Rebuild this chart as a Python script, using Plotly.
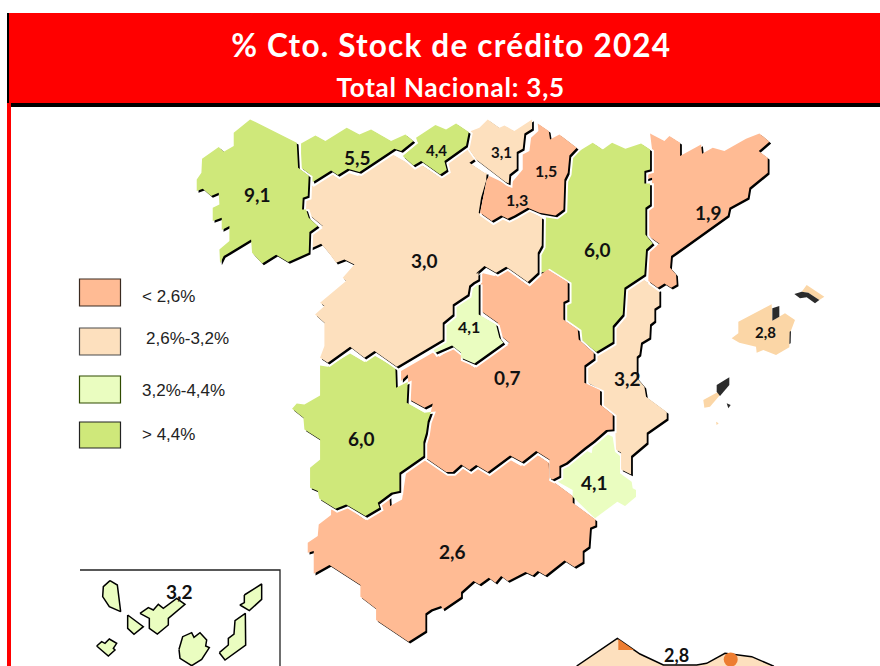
import plotly.graph_objects as go

W, H = 880, 666
ORANGE, PEACH, LIGHT, GREEN = "#FFBB94", "#FDE0BE", "#EAFDC0", "#CFE87A"
BAL = "#FBD6A6"


def crop(ox, oy, pts):
    return [(ox + x / 3, oy + y / 3) for x, y in pts]


GALICIA = crop(190, 110, [(182,30),(322,100),(326,175),(358,198),(355,260),(340,265),(338,300),(350,300),(358,325),(385,350),(360,368),(358,430),(296,458),(260,436),(218,462),(188,430),(185,390),(103,440),(92,462),(90,420),(120,395),(120,350),(97,362),(97,325),(70,335),(70,295),(90,285),(88,250),(65,260),(40,238),(22,245),(22,210),(36,190),(38,148),(88,113),(103,127),(133,110),(133,70)])
ASTURIAS = crop(190, 110, [(335,102),(378,78),(408,95),(472,55),(510,75),(545,60),(605,95),(648,75),(672,95),(635,125),(615,118),(510,188),(475,178),(445,197),(425,183),(370,218),(362,195),(335,175)])
CANTABRIA = crop(190, 110, [(680,85),(738,47),(770,60),(800,42),(838,68),(830,108),(765,155),(772,182),(752,195),(695,155),(672,168),(640,140),(685,100)])
CYL = crop(190, 110, [(365,232),(425,193),(445,205),(475,190),(505,200),(610,135),(680,175),(695,165),(755,205),(780,185),(762,155),(830,115),(862,145),(840,160),(885,190)]) + crop(460, 110, [(82,190),(80,215),(65,265),(58,310),(95,338),(125,318),(150,330),(200,298),(248,325),(247,408),(235,430),(235,490),(205,518),(140,472),(110,490),(75,470),(52,490),(52,510),(22,535)]) + crop(280, 260, [(597,38),(597,60),(570,75),(565,105),(520,135),(520,165),(490,190),(490,240),(352,322),(285,275),(255,295),(212,262),(145,310),(122,295),(135,260),(135,190),(107,165),(135,140),(122,130),(200,65),(190,55),(225,15)]) + crop(190, 110, [(465,450),(440,460),(418,430),(395,403),(362,418),(362,370),(400,350),(362,318),(345,295),(345,270),(360,260)])
MADRID = crop(280, 260, [(598,70),(598,165),(650,195),(660,235),(672,250),(585,312),(545,295),(545,280),(518,258),(468,280),(460,268),(495,245),(500,195),(525,170),(525,140),(570,110),(575,80)])
CLM = crop(280, 260, [(605,40),(645,50),(680,28),(742,75),(805,30),(865,68),(865,122),(852,128),(852,180),(895,210)]) + crop(540, 270, [(118,210),(163,250),(163,268),(135,288),(135,340),(182,362),(182,405),(220,435),(220,480),(200,482),(162,515),(135,535),(80,580),(60,590),(60,620),(40,630),(30,625)]) + crop(290, 450, [(780,30),(740,5),(698,38),(662,18),(595,68),(560,47),(540,62),(515,45),(490,68),(470,68),(408,25)]) + crop(280, 260, [(432,550),(445,520),(447,480),(455,455),(460,432),(435,445),(390,420),(385,345),(365,365),(365,335),(460,280),(480,292),(520,265),(545,285),(550,300),(585,325),(690,250),(660,225),(655,190),(605,155)])
ARAGON = crop(460, 110, [(335,140),(400,100),(430,120),(458,100),(498,118),(545,102),(572,120),(572,180),(555,185),(555,222),(572,222),(572,285),(558,295),(558,375),(580,402),(560,420),(555,495),(495,535)]) + crop(540, 270, [(255,55),(250,135),(220,170),(220,218),(170,248),(118,205),(115,178),(78,155),(78,95),(92,90),(90,38),(32,5)]) + crop(460, 110, [(240,490),(240,430),(250,410),(260,320),(285,325),(318,305),(320,220),(330,180)])
NAVARRA = crop(460, 110, [(235,42),(268,65),(272,90),(300,75),(352,115),(330,138),(325,190),(315,210),(312,300),(288,318),(240,310),(205,295),(165,318),(145,328),(125,318),(97,335),(62,310),(70,265),(82,210),(90,200),(150,228),(165,210),(190,180),(190,135),(210,125),(215,85),(237,65)])
BASQUE = crop(460, 110, [(85,30),(120,55),(135,48),(165,65),(218,30),(218,58),(195,72),(190,118),(172,128),(172,178),(150,195),(148,222),(138,218),(50,150),(22,110),(22,95),(35,65),(60,55)])
CATALONIA = crop(460, 110, [(572,72),(615,95),(630,80),(662,100),(662,140),(725,105),(728,133),(760,115),(795,125),(860,88),(900,72),(930,97),(898,125),(925,145),(925,190),(870,235),(865,265),(810,295),(805,318),(635,440),(632,475),(650,495),(652,525),(635,535),(615,522),(595,535),(567,515),(565,425),(600,403),(565,378),(565,290),(578,278),(578,205),(555,212),(578,180),(578,120)])
VALENCIA = crop(540, 270, [(307,27),(360,62),(360,108),(345,118),(345,155),(332,165),(330,205),(305,220),(300,255),(292,262),(292,325),(315,352),(320,382),(382,428),(382,448),(322,490),(322,520),(275,560),(275,615),(245,600),(245,550),(230,540),(228,490),(222,432),(185,405),(185,362),(145,340),(145,290),(170,268),(170,250),(220,222),(220,170),(255,135),(255,55)])
MURCIA = crop(540, 270, [(160,518),(200,492),(218,500),(225,545),(240,558),(240,610),(275,635),(278,655),(288,660),(288,680),(255,708),(232,695),(165,745),(98,680),(98,660),(40,628),(60,610),(60,590),(135,540),(155,550)])
ANDALUCIA = crop(290, 450, [(400,30),(490,72),(515,55),(540,68),(560,55),(595,75),(660,30),(695,50),(738,12),(778,40),(780,88),(850,140),(850,160),(918,210),(918,228),(902,235),(898,292),(880,305),(880,338),(855,353),(825,333),(768,378),(745,365),(730,378),(708,368),(655,395),(635,380),(618,400),(598,385),(570,405),(552,395),(515,428),(515,443),(460,480),(455,470),(425,480),(408,492),(408,545),(357,577),(260,512),(260,478),(213,442),(213,407),(120,347),(73,373),(73,305),(55,310),(55,280),(85,260),(88,225),(125,197),(125,180),(140,180),(170,170),(228,212),(275,180),(268,158),(300,135),(302,170),(338,150),(350,70)])
EXTREMADURA = crop(280, 260, [(122,318),(145,322),(212,282),(255,308),(285,288),(348,325),(350,385),(385,368),(382,430),(435,460),(455,458),(445,485),(440,520),(432,548),(432,590)]) + crop(290, 450, [(330,70),(330,125),(305,130),(265,160),(270,175),(228,200),(170,165),(138,178),(90,148),(85,125),(62,115),(62,55),(95,28)]) + crop(280, 260, [(92,625),(122,600),(122,540),(75,510),(72,475),(38,448),(52,432),(75,435),(122,408)])
MALLORCA = crop(540, 270, [(695,103),(697,152),(735,130),(765,150),(750,190),(748,232),(708,255),(670,240),(650,248),(648,230),(598,218),(575,205),(595,190),(595,155)])
MENORCA = crop(540, 270, [(800,45),(853,80),(838,90),(805,68),(785,65)])
IBIZA = crop(540, 270, [(490,390),(535,365),(540,375),(510,410),(493,413)])
FORMENTERA = crop(540, 270, [(528,455),(536,460),(530,465)])
DARK_1 = crop(540, 270, [(697,115),(718,108),(718,140),(697,152)])
DARK_2 = crop(540, 270, [(763,72),(785,65),(805,68),(838,90),(825,100),(800,82),(780,85)])
DARK_3 = crop(540, 270, [(530,345),(568,322),(568,345),(540,378),(530,365)])
DARK_4 = crop(540, 270, [(560,400),(572,405),(565,415)])
DARK_5 = crop(540, 270, [(749,185),(753,183),(752,220),(748,222)])
LA_PALMA = crop(60, 560, [(150,62),(172,75),(182,155),(148,140),(128,110),(130,80)])
GOMERA = crop(60, 560, [(203,165),(250,200),(222,223),(203,205)])
HIERRO = crop(60, 560, [(110,258),(125,245),(135,250),(148,237),(170,250),(160,265),(165,270),(145,288)])
TENERIFE = crop(60, 560, [(240,160),(265,143),(280,150),(295,133),(310,145),(350,115),(375,133),(325,175),(325,195),(292,222),(268,205),(268,175)])
GRAN_CANARIA = crop(60, 560, [(357,268),(368,230),(395,218),(402,232),(420,218),(440,240),(437,258),(448,263),(425,298),(395,317),(360,295)])
FUERTEVENTURA = crop(60, 560, [(478,278),(505,255),(505,235),(522,222),(525,182),(556,160),(557,255),(495,300)])
LANZAROTE = crop(60, 560, [(553,105),(605,72),(605,118),(568,152),(540,135),(553,128)])
INSET_FRAME = [(80, 570), (280, 570), (280, 666)]
CEUTA_MELILLA = crop(560, 630, [(50,108),(172,25),(240,72),(310,105),(410,105),(440,100),(495,70),(575,80),(640,108),(640,200),(50,200)])
MARKER_TRI = crop(560, 630, [(175,27),(222,60),(175,60)])
MARKER_DOT = (730.7, 659.5)

# drawn in this order: a later region's shadow falls on the earlier ones
REGIONS = [
    (ANDALUCIA, ORANGE, True), (MURCIA, LIGHT, False), (VALENCIA, PEACH, True), (CATALONIA, ORANGE, True),
    (ARAGON, GREEN, True), (CLM, ORANGE, True), (MADRID, LIGHT, True), (EXTREMADURA, GREEN, True),
    (CYL, PEACH, True), (NAVARRA, ORANGE, True), (BASQUE, PEACH, True), (CANTABRIA, GREEN, True),
    (ASTURIAS, GREEN, True), (GALICIA, GREEN, True),
    (MALLORCA, BAL, False), (MENORCA, BAL, False), (IBIZA, BAL, False), (FORMENTERA, BAL, False),
]
DARK = [DARK_1, DARK_2, DARK_3, DARK_4, DARK_5]
CANARY = [LA_PALMA, GOMERA, HIERRO, TENERIFE, GRAN_CANARIA, FUERTEVENTURA, LANZAROTE]

LABELS = ["9,1", "5,5", "4,4", "3,1", "1,5", "1,3", "3,0", "6,0", "1,9", "4,1", "0,7", "3,2", "2,8", "6,0", "4,1", "2,6", "3,2", "2,8"]
LABEL_X = [257, 357, 436, 501, 546, 517, 424, 597, 708, 469, 507, 627, 765, 361, 594, 452, 179, 676]
LABEL_Y = [194, 157, 150, 152, 170, 199, 260, 249, 212, 326, 377, 378, 332, 438, 482, 551, 591, 655]
LABEL_SIZE = [19, 19, 15, 15, 16, 16, 19, 19, 19, 16, 19, 19, 15, 19, 19, 19, 19, 18]

LEGEND_TEXT = ["< 2,6%", " 2,6%-3,2%", "3,2%-4,4%", "> 4,4%"]
LEGEND_COLOR = [ORANGE, PEACH, LIGHT, GREEN]
LEGEND_EDGE = ["#3a2a20", "#4a4a4a", "#2f4a00", "#222222"]
LEGEND_TOP = [279, 328, 376, 422]
LEGEND_BOTTOM = [306, 355, 403, 448]
LEGEND_TEXT_X = [140, 144, 140, 140]
LEGEND_TEXT_Y = [296, 338, 390, 434]

TITLE = "% Cto. Stock de crédito 2024"
SUBTITLE = "Total Nacional: 3,5"

fig = go.Figure()


def poly(pts, fill, line=None, lw=0, dx=0.0, dy=0.0):
    xs = [p[0] + dx for p in pts] + [pts[0][0] + dx]
    ys = [p[1] + dy for p in pts] + [pts[0][1] + dy]
    fig.add_trace(go.Scatter(x=xs, y=ys, mode="lines", fill="toself", fillcolor=fill,
                             line=dict(color=line or fill, width=lw), hoverinfo="skip", showlegend=False))


for pts, c, shadow in REGIONS:
    if shadow:
        poly(pts, "white", "white", 4, 1.2, 1.2)
        poly(pts, "black", dx=1.2, dy=1.2)
        poly(pts, c, dx=-0.6, dy=-0.6)
    else:
        poly(pts, c)
for pts in DARK:
    poly(pts, "#2b2b2b")
for pts in CANARY:
    poly(pts, LIGHT, "black", 1.5)
poly(CEUTA_MELILLA, PEACH, "black", 1.5)
poly(MARKER_TRI, "#ED7D31")
fig.add_trace(go.Scatter(x=[MARKER_DOT[0]], y=[MARKER_DOT[1]], mode="markers",
                         marker=dict(color="#ED7D31", size=14), hoverinfo="skip", showlegend=False))
fig.add_trace(go.Scatter(x=[p[0] for p in INSET_FRAME], y=[p[1] for p in INSET_FRAME], mode="lines",
                         line=dict(color="#222222", width=1.3), hoverinfo="skip", showlegend=False))

shapes = [
    dict(type="rect", x0=7, x1=880, y0=13, y1=103, fillcolor="#FF0000", line_width=0, layer="above"),
    dict(type="rect", x0=7, x1=9, y0=13, y1=103, fillcolor="black", line_width=0, layer="above"),
    dict(type="rect", x0=7, x1=880, y0=103, y1=107, fillcolor="black", line_width=0, layer="above"),
    dict(type="rect", x0=7, x1=11, y0=103, y1=666, fillcolor="#FF0000", line_width=0, layer="above"),
]
for top, bottom, c, e in zip(LEGEND_TOP, LEGEND_BOTTOM, LEGEND_COLOR, LEGEND_EDGE):
    shapes.append(dict(type="rect", x0=79.5, x1=120.5, y0=top, y1=bottom, fillcolor=c, line=dict(color=e, width=1.2)))

annotations = []
for t, x, y, s in zip(LABELS, LABEL_X, LABEL_Y, LABEL_SIZE):
    annotations.append(dict(x=x, y=y, text=t, showarrow=False, font=dict(family="Lato", size=s, color="#111111", weight="bold")))
for t, x, y in zip(LEGEND_TEXT, LEGEND_TEXT_X, LEGEND_TEXT_Y):
    annotations.append(dict(x=x, y=y, text=t.strip(), xanchor="left", showarrow=False, font=dict(family="Liberation Sans", size=17, color="#222222")))
annotations.append(dict(x=451, y=45, text=TITLE, showarrow=False, font=dict(family="Lato", size=31.5, color="white", weight="bold")))
annotations.append(dict(x=450, y=87, text=SUBTITLE, showarrow=False, font=dict(family="Lato", size=26, color="white", weight="bold")))

fig.update_layout(
    width=W, height=H, margin=dict(l=0, r=0, t=0, b=0), paper_bgcolor="white", plot_bgcolor="white",
    xaxis=dict(range=[0, W], visible=False), yaxis=dict(range=[H, 0], visible=False),
    shapes=shapes, annotations=annotations, showlegend=False,
)
POST = """
document.body.style.margin = '0';
document.body.style.overflow = 'hidden';
document.querySelectorAll('.annotation-text').forEach(function (t) {
  var s = t.textContent;
  if (s.indexOf('Stock') >= 0) t.style.letterSpacing = '1.2px';
  if (s.indexOf('Nacional') >= 0) t.style.letterSpacing = '0.8px';
});
"""
fig.write_html("out.html", config=dict(displayModeBar=False), post_script=POST)
